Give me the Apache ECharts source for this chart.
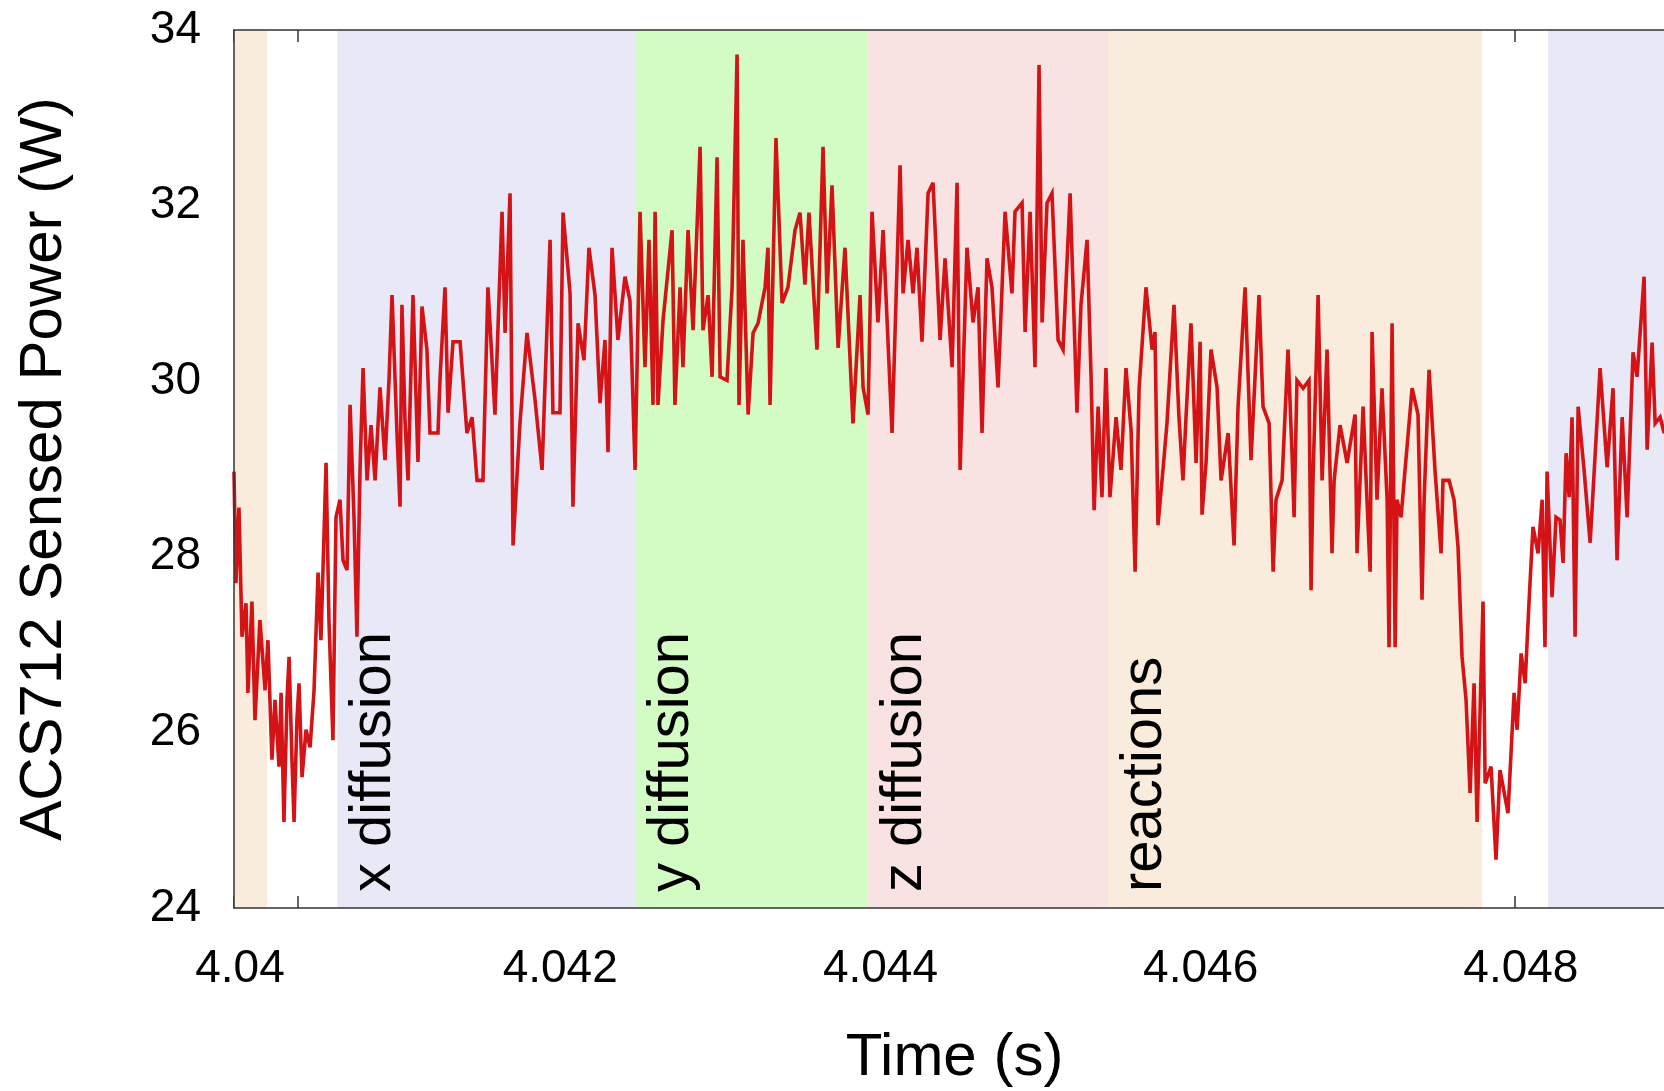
<!DOCTYPE html>
<html>
<head>
<meta charset="utf-8">
<script src="https://cdn.jsdelivr.net/npm/echarts@6/dist/echarts.min.js"></script>
<style>
html,body{margin:0;padding:0;background:#fff;}
#chart{width:1664px;height:1091px;}
</style>
</head>
<body>
<div id="chart"></div>
<script>
// ---- data ----
const timeOrigin = 4.04; // seconds
// sample times, microseconds after 4.04 s
const timesUs = [0,12,31,50,75,87,112,131,162,194,212,237,256,281,294,312,331,344,362,375,393,406,425,450,475,500,525,543,575,593,618,637,662,681,706,725,750,768,787,806,831,856,881,912,943,968,987,1018,1037,1049,1068,1087,1118,1149,1174,1205,1224,1274,1287,1318,1337,1368,1412,1455,1487,1518,1555,1586,1630,1674,1693,1724,1743,1786,1830,1880,1924,1974,1992,2036,2055,2099,2117,2149,2186,2217,2255,2286,2317,2336,2361,2398,2442,2473,2505,2536,2567,2592,2617,2630,2648,2680,2736,2754,2786,2804,2836,2867,2911,2929,2961,2986,3017,3036,3079,3111,3142,3154,3179,3211,3242,3273,3317,3335,3348,3385,3423,3460,3504,3535,3566,3591,3641,3679,3704,3735,3773,3816,3866,3910,3929,3960,3985,4022,4054,4110,4160,4179,4210,4241,4266,4297,4335,4366,4410,4441,4485,4516,4535,4578,4616,4647,4672,4703,4734,4772,4816,4859,4878,4922,4941,4972,5003,5028,5047,5078,5109,5147,5178,5222,5265,5290,5328,5353,5372,5397,5421,5446,5471,5509,5540,5571,5603,5628,5653,5696,5734,5752,5771,5802,5827,5871,5902,5927,5946,5977,6009,6034,6046,6071,6102,6140,6165,6209,6246,6271,6315,6352,6402,6427,6465,6490,6508,6546,6583,6608,6621,6639,6677,6714,6727,6739,6771,6796,6827,6858,6871,6908,6952,7002,7014,7052,7071,7096,7108,7139,7170,7202,7214,7233,7252,7264,7289,7314,7358,7395,7420,7433,7464,7501,7539,7551,7589,7620,7645,7670,7695,7720,7745,7764,7801,7814,7851,7882,7907,7957,7995,8014,8039,8064,8089,8113,8145,8170,8188,8201,8232,8257,8282,8301,8320,8339,8357,8376,8395,8432,8470,8532,8576,8613,8638,8670,8701,8738,8763,8807,8826,8857,8876,8907,8932,8970];
// sensed power, W
const powerW = [28.97,27.70,28.56,27.09,27.47,26.45,27.49,26.14,27.28,26.48,27.05,25.69,26.37,25.61,26.45,24.98,26.37,26.86,25.69,24.98,26.14,26.56,25.49,26.03,25.83,26.48,27.82,27.05,29.07,27.28,25.91,28.45,28.65,27.96,27.85,29.73,28.42,27.09,28.99,30.15,28.87,29.50,28.87,29.93,29.10,30.01,30.98,29.41,28.57,30.87,29.56,28.87,30.98,29.08,30.85,30.36,29.41,29.41,30.04,31.07,29.64,30.45,30.45,29.41,29.59,28.87,28.87,31.07,29.62,31.93,30.55,32.14,28.13,29.52,30.55,29.79,28.99,31.61,29.64,29.64,31.92,31.00,28.57,30.66,30.24,31.52,30.98,29.75,30.47,29.19,31.52,30.47,31.19,30.92,28.99,31.93,30.16,31.61,29.73,31.93,29.73,30.70,31.72,29.73,31.07,30.16,31.72,30.58,32.67,30.58,30.98,30.05,32.55,30.05,30.01,31.07,33.72,29.73,31.61,29.62,30.55,30.66,31.07,31.52,29.73,32.77,30.89,31.07,31.72,31.92,31.10,31.92,30.36,32.67,31.00,32.23,30.38,31.52,29.52,30.98,29.93,29.62,31.93,30.67,31.72,29.41,32.46,31.00,31.61,31.00,31.52,30.45,32.14,32.26,30.47,31.40,30.16,32.26,28.99,31.52,30.67,31.07,29.41,31.40,31.07,29.93,31.93,31.00,31.93,32.03,30.56,31.93,30.16,33.60,30.67,32.03,32.14,30.47,30.36,32.14,29.64,30.87,31.61,30.05,28.53,29.71,28.68,30.15,28.68,29.59,28.99,30.15,29.44,27.83,29.92,31.07,30.36,30.56,28.36,28.99,29.52,30.87,29.59,28.87,29.59,30.66,29.07,30.45,28.48,29.07,30.36,29.93,28.87,29.41,28.13,29.71,31.07,29.10,30.98,29.71,29.52,27.83,28.65,28.87,30.36,29.18,28.45,30.01,29.92,30.01,27.62,28.87,30.98,28.87,30.36,28.04,28.87,29.50,29.07,29.62,28.04,29.71,28.87,27.83,30.56,28.65,29.92,28.65,26.97,30.66,26.97,28.65,28.45,28.99,29.92,29.62,27.51,28.65,30.13,28.99,28.04,28.87,28.87,28.65,28.11,26.86,26.37,25.31,26.56,24.98,27.49,25.42,25.61,24.55,25.57,25.08,26.45,26.03,26.90,26.56,27.51,28.34,28.04,28.65,26.97,28.97,27.54,28.45,28.42,27.93,29.18,28.68,29.59,27.09,29.71,28.99,28.16,30.15,29.02,29.92,27.96,29.59,28.45,30.33,30.05,31.19,29.22,30.44,29.52,29.59,29.41,29.79];

// phases of the simulation (shaded spans)
const phaseKinds  = ['reactions', 'x', 'y', 'z', 'reactions', 'x'];
const phaseStart  = [4.04, 4.040645, 4.042505, 4.043958, 4.045459, 4.048208];
const phaseEnd    = [4.040208, 4.042505, 4.043958, 4.045459, 4.047795, 4.049];
const phaseLabels = ['', 'x diffusion', 'y diffusion', 'z diffusion', 'reactions', ''];

// axis settings
const xMin = 4.04, xMax = 4.049, xLabelStep = 0.002, xTickStep = 0.0004;
const yMin = 24, yMax = 34, yStep = 2;

// ---- styles ----
const phaseColor = { reactions: '#faecdc', x: '#e8e8f7', y: '#d3fcc5', z: '#f8e2e2' };
const FONT = '"Liberation Sans", Arial, Helvetica, sans-serif';
const frameColor = '#333333';

const lineData = timesUs.map((u, i) => [timeOrigin + u * 1e-6, powerW[i]]);
const areas = phaseKinds.map((k, i) => [
  { xAxis: phaseStart[i], itemStyle: { color: phaseColor[k] } },
  { xAxis: phaseEnd[i] }
]);
const labelData = [];
const labelText = [];
phaseLabels.forEach((s, i) => { if (s) { labelData.push([phaseStart[i], yMin]); labelText.push(s); } });

const tickAxis = (pos) => ({
  type: 'value', position: pos, min: xMin, max: xMax, interval: xTickStep, z: 0,
  axisLine: { show: false },
  axisTick: { show: true, inside: true, length: 12, lineStyle: { color: frameColor, width: 1.5 } },
  axisLabel: { show: false }, splitLine: { show: false }
});

const chart = echarts.init(document.getElementById('chart'), null, { renderer: 'canvas' });
chart.setOption({
  animation: false,
  backgroundColor: '#ffffff',
  grid: { left: 234, top: 30, right: -11, bottom: 183, outerBoundsMode: 'none', containLabel: false },
  xAxis: [
    {
      type: 'value', position: 'bottom', min: xMin, max: xMax, interval: xLabelStep, z: 10,
      axisLine: { show: true, lineStyle: { color: frameColor, width: 1.5 } },
      axisTick: { show: false },
      splitLine: { show: false },
      axisLabel: {
        show: true, margin: 38, fontSize: 46, fontFamily: FONT, color: '#000',
        showMaxLabel: false, padding: [0, 0, 0, 12],
        formatter: v => String(Number(v.toFixed(3)))
      },
      name: 'Time (s)', nameLocation: 'middle', nameGap: 120,
      nameTextStyle: { fontSize: 60, fontFamily: FONT, color: '#000' }
    },
    tickAxis('bottom'),
    tickAxis('top'),
    {
      type: 'value', position: 'top', min: xMin, max: xMax, interval: xLabelStep, z: 10,
      axisLine: { show: true, lineStyle: { color: frameColor, width: 1.5 } },
      axisTick: { show: false }, axisLabel: { show: false }, splitLine: { show: false }
    }
  ],
  yAxis: [{
    type: 'value', position: 'left', min: yMin, max: yMax, interval: yStep, z: 10,
    axisLine: { show: true, lineStyle: { color: frameColor, width: 1.5 } },
    axisTick: { show: false },
    splitLine: { show: false },
    axisLabel: { margin: 33, fontSize: 46, fontFamily: FONT, color: '#000' },
    name: 'ACS712 Sensed Power (W)', nameLocation: 'middle', nameGap: 160, nameRotate: 90,
    nameTextStyle: { fontSize: 60, fontFamily: FONT, color: '#000' }
  }],
  series: [
    {
      type: 'line', xAxisIndex: 0, yAxisIndex: 0, data: lineData,
      showSymbol: false, symbol: 'none', z: 2, clip: true,
      lineStyle: { color: '#d31316', width: 3.6, join: 'miter', miterLimit: 4 },
      markArea: { silent: true, z: 1, label: { show: false }, data: areas }
    },
    {
      type: 'custom', xAxisIndex: 0, yAxisIndex: 0, data: labelData, z: 3, silent: true,
      renderItem: (params, api) => {
        const pt = api.coord([api.value(0), api.value(1)]);
        return {
          type: 'text', x: pt[0] + 8, y: pt[1] - 16, rotation: Math.PI / 2,
          style: {
            text: labelText[params.dataIndex], fill: '#000',
            font: '58px ' + FONT,
            align: 'left', verticalAlign: 'top', textAlign: 'left', textVerticalAlign: 'top'
          }
        };
      }
    }
  ]
});
</script>
</body>
</html>
